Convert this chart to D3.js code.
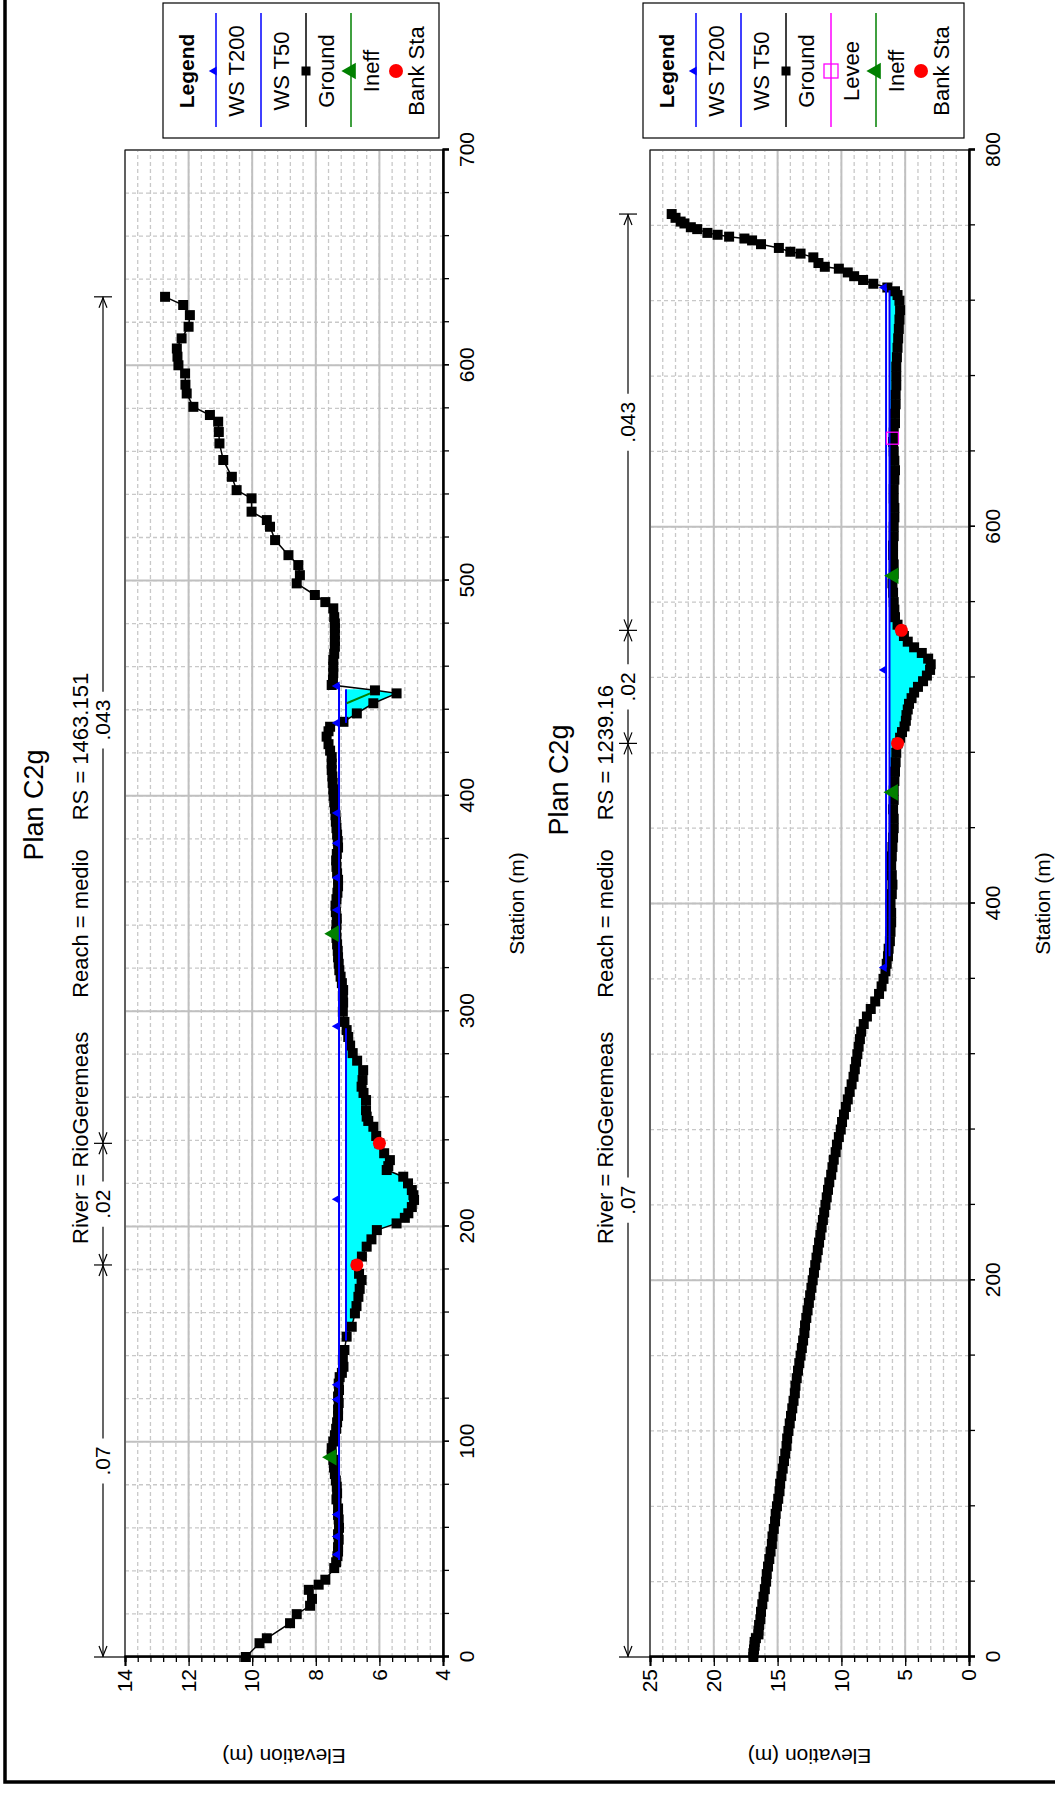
<!DOCTYPE html>
<html>
<head>
<meta charset="utf-8">
<script src="https://cdn.jsdelivr.net/npm/d3@7"></script>
<style>
  body { margin: 0; background: #fff; }
  svg { display: block; }
  text { font-family: "Liberation Sans", Arial, sans-serif; }
</style>
</head>
<body>
<div class="canvas"></div>
<script>
// ---- upper section, RS = 1463.151 ----
const upGroundSta = [0, 6.4, 8.7, 15.7, 19.9, 23.8, 27, 31.2, 33.6, 35.9, 41.3, 44, 46.8, 49, 51, 54.5, 57, 60, 63.9, 66, 69, 73.2, 76, 79.1, 82, 85, 88, 91.6, 94, 97, 100.1, 103, 106, 109, 112, 115, 118, 121, 124, 127, 130, 132, 134.8, 138, 142.6, 148.8, 153.4, 159.6, 163, 167.3, 171, 175.1, 178, 182.1, 186, 190.6, 194, 198.3, 201.4, 204, 206.1, 209, 212.3, 214.5, 216.9, 220, 223.1, 226.2, 228, 230.8, 234, 238.6, 242, 246.3, 249, 251, 254, 258.7, 262, 264.9, 268, 272.6, 277, 280.5, 284, 288, 291.2, 295, 299.7, 304, 307, 309.8, 313, 316, 319, 322, 325, 328, 331, 334, 337, 340, 343, 346, 349, 352, 355, 358, 361, 364, 367, 370, 373, 376, 379, 382, 385, 388, 391, 394, 397, 400, 403, 406, 409, 412, 415, 418, 421, 424, 427.5, 430, 432.1, 434.4, 438.3, 443, 447.6, 449, 451.5, 454, 457, 460, 463.1, 466, 469.3, 472, 475, 478, 480.1, 483, 487.1, 490, 493.3, 498.7, 502.5, 507.2, 511.8, 518.8, 525, 528.1, 532, 538.2, 542, 548.2, 556, 563.7, 569, 573.8, 576.9, 580.7, 586.9, 591, 596.2, 600, 604, 607.8, 612.5, 617.9, 623.3, 628, 631.8];
const upGroundElev = [10.2, 9.77, 9.54, 8.81, 8.6, 8.18, 8.12, 8.22, 7.91, 7.7, 7.42, 7.36, 7.32, 7.3, 7.3, 7.28, 7.3, 7.27, 7.28, 7.3, 7.3, 7.35, 7.33, 7.34, 7.37, 7.4, 7.43, 7.45, 7.5, 7.5, 7.45, 7.4, 7.36, 7.33, 7.3, 7.3, 7.28, 7.3, 7.27, 7.28, 7.25, 7.18, 7.13, 7.15, 7.1, 7.03, 6.87, 6.77, 6.72, 6.66, 6.62, 6.56, 6.64, 6.71, 6.55, 6.4, 6.25, 6.08, 5.46, 5.2, 5.09, 4.98, 4.91, 4.93, 4.98, 5.1, 5.25, 5.77, 5.72, 5.67, 5.85, 6.0, 6.1, 6.19, 6.35, 6.4, 6.42, 6.42, 6.5, 6.56, 6.53, 6.51, 6.7, 6.84, 6.92, 6.98, 7.03, 7.1, 7.15, 7.14, 7.15, 7.14, 7.18, 7.22, 7.26, 7.28, 7.3, 7.31, 7.33, 7.35, 7.36, 7.35, 7.34, 7.37, 7.38, 7.35, 7.32, 7.3, 7.3, 7.33, 7.35, 7.36, 7.34, 7.3, 7.31, 7.33, 7.35, 7.37, 7.38, 7.4, 7.42, 7.44, 7.45, 7.47, 7.48, 7.5, 7.5, 7.5, 7.55, 7.6, 7.66, 7.6, 7.55, 7.13, 6.71, 6.19, 5.46, 6.14, 7.5, 7.46, 7.45, 7.45, 7.45, 7.42, 7.4, 7.4, 7.4, 7.4, 7.4, 7.42, 7.45, 7.7, 8.03, 8.6, 8.5, 8.55, 8.86, 9.28, 9.44, 9.54, 10.02, 10.02, 10.49, 10.64, 10.91, 11.03, 11.05, 11.07, 11.33, 11.85, 12.06, 12.1, 12.11, 12.32, 12.35, 12.37, 12.22, 12.0, 11.96, 12.17, 12.74];
const upWsT200 = 7.27, upWsT200From = [45], upWsT200To = [452];
const upWsT50 = 7.05, upWsT50From = [147, 433.9], upWsT50To = [292, 449.5];
const upWsMarkSta = [47.6, 56, 66.2, 119.6, 126.5, 212.6, 293, 347, 362, 378, 392, 433.9, 451];
const upIneffSta = [92.8, 336], upIneffElev = [7.5, 7.43];
const upIneffLineSta = [443, 447.6], upIneffLineElev = [7.03, 6.29];
const upBankSta = [182.1, 238.6], upBankElev = [6.71, 6.0];
const upNBounds = [0, 182.1, 238.6, 631.8], upNValues = ['.07', '.02', '.043'];
const upStaTicks = [0, 100, 200, 300, 400, 500, 600, 700];
const upElevTicks = [4, 6, 8, 10, 12, 14];
const upLegend = ['WS T200', 'WS T50', 'Ground', 'Ineff', 'Bank Sta'];

// ---- lower section, RS = 1239.16 ----
const lowGroundSta = [0, 2, 4, 6, 8, 10, 12, 14, 17, 20, 24, 28, 32, 36, 40, 44, 48, 52, 56, 60, 64, 68, 72, 76, 80, 84, 88, 92, 96, 100, 104, 108, 112, 116, 120, 124, 128, 132, 136, 140, 144, 148, 152, 156, 160, 164, 168, 172, 176, 180, 184, 188, 192, 196, 200, 204, 208, 212, 216, 220, 224, 228, 232, 236, 240, 244, 248, 252, 256, 260, 264, 268, 272, 276, 280, 284, 288, 292, 296, 300, 304, 308, 312, 316, 320, 324, 328, 332, 336, 340, 344, 348, 352, 356, 360, 364, 368, 372, 376, 380, 385, 390, 395, 400, 405, 410, 415, 420, 425, 430, 435, 440, 445, 450, 455, 460, 465, 470, 475, 480, 485, 488, 491, 494, 497, 500, 503, 506, 509, 512, 515, 518, 521, 524, 527, 530, 533, 536, 539, 542, 545, 548, 552, 556, 560, 565, 570, 575, 580, 585, 590, 595, 600, 605, 610, 615, 620, 625, 630, 635, 640, 645, 650, 655, 660, 665, 670, 675, 680, 685, 690, 695, 700, 705, 710, 715, 720, 723, 725, 727, 729, 731, 733, 735, 737, 738, 740, 743, 745, 746, 748, 750, 752, 753, 754, 755, 756, 758, 759, 761, 762, 764, 766];
const lowGroundElev = [16.9, 16.9, 16.85, 16.8, 16.8, 16.7, 16.5, 16.5, 16.45, 16.35, 16.3, 16.2, 16.1, 16.0, 15.9, 15.85, 15.75, 15.65, 15.55, 15.45, 15.4, 15.3, 15.2, 15.15, 15.05, 14.95, 14.85, 14.8, 14.7, 14.6, 14.5, 14.4, 14.3, 14.25, 14.15, 14.05, 13.95, 13.85, 13.75, 13.65, 13.6, 13.5, 13.4, 13.3, 13.2, 13.1, 13.0, 12.9, 12.85, 12.75, 12.65, 12.55, 12.45, 12.35, 12.25, 12.15, 12.05, 11.95, 11.85, 11.75, 11.65, 11.55, 11.45, 11.35, 11.25, 11.15, 11.05, 10.95, 10.8, 10.7, 10.6, 10.45, 10.35, 10.2, 10.05, 9.95, 9.8, 9.65, 9.5, 9.35, 9.2, 9.05, 8.95, 8.85, 8.75, 8.65, 8.55, 8.45, 8.25, 8.0, 7.7, 7.35, 7.05, 6.85, 6.7, 6.55, 6.45, 6.35, 6.3, 6.2, 6.15, 6.1, 6.1, 6.15, 6.05, 6.0, 6.05, 6.1, 6.05, 6.0, 5.95, 5.9, 5.9, 5.95, 5.9, 5.9, 5.85, 5.8, 5.75, 5.7, 5.6, 5.4, 5.25, 5.05, 4.95, 4.9, 4.8, 4.7, 4.5, 4.3, 4.0, 3.6, 3.3, 3.05, 3.0, 3.2, 3.7, 4.3, 4.8, 5.1, 5.3, 5.6, 5.8, 5.85, 5.9, 5.95, 6.0, 5.9, 5.9, 5.95, 5.95, 5.9, 5.9, 5.85, 5.85, 5.9, 5.9, 5.85, 5.8, 5.85, 5.9, 5.95, 5.9, 5.8, 5.8, 5.75, 5.75, 5.7, 5.7, 5.7, 5.65, 5.6, 5.55, 5.5, 5.45, 5.4, 5.45, 5.6, 5.8, 6.4, 7.5, 8.3, 9.0, 9.5, 10.2, 11.3, 11.8, 12.2, 13.2, 14.0, 14.9, 16.3, 17.0, 17.6, 18.8, 19.7, 20.5, 21.3, 21.8, 22.3, 22.6, 23.0, 23.3];
const lowWsT200 = 6.5, lowWsT200From = [366], lowWsT200To = [727];
const lowWsT50 = 6.23, lowWsT50From = [372], lowWsT50To = [725.5];
const lowWsMarkSta = [366, 524, 727];
const lowIneffSta = [459, 574], lowIneffElev = [5.95, 5.9];
const lowLeveeSta = [647], lowLeveeElev = [6.0];
const lowBankSta = [485, 545], lowBankElev = [5.6, 5.3];
const lowNBounds = [0, 485, 545, 766], lowNValues = ['.07', '.02', '.043'];
const lowStaTicks = [0, 200, 400, 600, 800];
const lowElevTicks = [0, 5, 10, 15, 20, 25];
const lowLegend = ['WS T200', 'WS T50', 'Ground', 'Levee', 'Ineff', 'Bank Sta'];

const title = 'Plan C2g';

// page is portrait, the sheet is drawn landscape and turned a quarter turn
const pageW = 1055, pageH = 1793;
const plotX0 = 136, plotX1 = 1643;

const svg = d3.select('.canvas')
    .append('svg')
    .attr('width', pageW)
    .attr('height', pageH);

const sheet = svg.append('g')
    .attr('transform', `translate(0, ${pageH}) rotate(-90)`);
const defs = svg.append('defs');

// page border (right and bottom run off the picture)
sheet.append('rect')
    .attr('x', 11).attr('y', 5)
    .attr('width', 1900).attr('height', 1200)
    .attr('fill', 'none')
    .attr('stroke', '#000')
    .attr('stroke-width', 3.5);

const pts = (s, e) => s.map((d, i) => ({ s: d, e: e[i] }));

function drawSection(sec) {
    const g = sheet.append('g');
    const bottom = sec.top + sec.h;
    const x = d3.scaleLinear().domain([0, sec.stMax]).range([plotX0, plotX1]);
    const y = d3.scaleLinear().domain([sec.eMin, sec.eMax]).range([bottom, sec.top]);

    const stMinor = d3.range(0, Math.round(sec.stMax / sec.stStep) + 1).map(i => i * sec.stStep);
    const eMinor = d3.range(0, Math.round((sec.eMax - sec.eMin) / sec.eStep) + 1).map(i => sec.eMin + i * sec.eStep);

    // minor grid (dashed)
    const grid = g.append('g');
    grid.selectAll('.gx').data(stMinor).join('line')
        .attr('x1', d => x(d)).attr('x2', d => x(d))
        .attr('y1', sec.top).attr('y2', bottom)
        .attr('stroke', '#c8c8c8').attr('stroke-width', 1.3).attr('stroke-dasharray', '4,3');
    grid.selectAll('.gy').data(eMinor).join('line')
        .attr('x1', plotX0).attr('x2', plotX1)
        .attr('y1', d => y(d)).attr('y2', d => y(d))
        .attr('stroke', '#c8c8c8').attr('stroke-width', 1.3).attr('stroke-dasharray', '4,3');
    // major grid (solid)
    grid.selectAll('.mx').data(sec.staTicks).join('line')
        .attr('x1', d => x(d)).attr('x2', d => x(d))
        .attr('y1', sec.top).attr('y2', bottom)
        .attr('stroke', '#c0c0c0').attr('stroke-width', 2);
    grid.selectAll('.my').data(sec.elevTicks).join('line')
        .attr('x1', plotX0).attr('x2', plotX1)
        .attr('y1', d => y(d)).attr('y2', d => y(d))
        .attr('stroke', '#c0c0c0').attr('stroke-width', 2);

    const ground = pts(sec.groundSta, sec.groundElev);

    // water: rect under each WS T50 reach, clipped to the space above the ground
    const clipId = 'above-' + sec.key;
    defs.append('clipPath').attr('id', clipId)
        .append('path')
        .datum(ground)
        .attr('d', d3.area().x(d => x(d.s)).y0(sec.top - 50).y1(d => y(d.e)));
    g.append('g').attr('clip-path', `url(#${clipId})`)
        .selectAll('rect').data(sec.ws50From).join('rect')
        .attr('x', d => x(d))
        .attr('width', (d, i) => x(sec.ws50To[i]) - x(d))
        .attr('y', y(sec.ws50))
        .attr('height', bottom - y(sec.ws50))
        .attr('fill', '#00ffff');

    // ground
    g.append('path').datum(ground)
        .attr('d', d3.line().x(d => x(d.s)).y(d => y(d.e)))
        .attr('fill', 'none').attr('stroke', '#000').attr('stroke-width', 1.5);
    g.selectAll('.gp').data(ground).join('rect')
        .attr('x', d => x(d.s) - 5).attr('y', d => y(d.e) - 5)
        .attr('width', 10).attr('height', 10).attr('fill', '#000');

    // water surfaces
    const wsLines = [];
    sec.ws200From.forEach((d, i) => wsLines.push({ a: d, b: sec.ws200To[i], e: sec.ws200 }));
    sec.ws50From.forEach((d, i) => wsLines.push({ a: d, b: sec.ws50To[i], e: sec.ws50 }));
    g.selectAll('.ws').data(wsLines).join('line')
        .attr('x1', d => x(d.a)).attr('x2', d => x(d.b))
        .attr('y1', d => y(d.e)).attr('y2', d => y(d.e))
        .attr('stroke', '#0000ff').attr('stroke-width', 2);
    g.selectAll('.wm').data(sec.wsMarks).join('path')
        .attr('d', d3.symbol(d3.symbolTriangle, 36))
        .attr('transform', d => `translate(${x(d)},${y(sec.ws200) - 2})`)
        .attr('fill', '#0000ff');

    // ineffective flow
    if (sec.ineffLineSta) {
        g.append('path').datum(pts(sec.ineffLineSta, sec.ineffLineElev))
            .attr('d', d3.line().x(d => x(d.s)).y(d => y(d.e)))
            .attr('stroke', '#008000').attr('stroke-width', 2);
    }
    g.selectAll('.ie').data(pts(sec.ineffSta, sec.ineffElev)).join('path')
        .attr('d', d3.symbol(d3.symbolTriangle, 120))
        .attr('transform', d => `translate(${x(d.s)},${y(d.e)})`)
        .attr('fill', '#008000');
    if (sec.leveeSta) {
        g.selectAll('.lv').data(pts(sec.leveeSta, sec.leveeElev)).join('rect')
            .attr('x', d => x(d.s) - 6).attr('y', d => y(d.e) - 6)
            .attr('width', 12).attr('height', 12)
            .attr('fill', 'none').attr('stroke', '#ff00ff').attr('stroke-width', 1.3);
    }
    g.selectAll('.bk').data(pts(sec.bankSta, sec.bankElev)).join('circle')
        .attr('cx', d => x(d.s)).attr('cy', d => y(d.e)).attr('r', 6.5)
        .attr('fill', '#ff0000');

    // plot frame
    g.append('rect')
        .attr('x', plotX0).attr('y', sec.top)
        .attr('width', plotX1 - plotX0).attr('height', sec.h)
        .attr('fill', 'none').attr('stroke', '#000').attr('stroke-width', 1);

    // axes
    const xMinor = g.append('g').attr('transform', `translate(0,${bottom})`)
        .call(d3.axisBottom(x).tickValues(stMinor).tickSize(6).tickFormat(''));
    const xAxis = g.append('g').attr('transform', `translate(0,${bottom})`)
        .call(d3.axisBottom(x).tickValues(sec.staTicks).tickSize(6).tickPadding(10));
    const yMinor = g.append('g').attr('transform', `translate(${plotX0},0)`)
        .call(d3.axisLeft(y).tickValues(eMinor).tickSize(5).tickFormat(''));
    const yAxis = g.append('g').attr('transform', `translate(${plotX0},0)`)
        .call(d3.axisLeft(y).tickValues(sec.elevTicks).tickSize(9).tickPadding(3));
    [xMinor, xAxis, yMinor, yAxis].forEach(a => {
        a.select('.domain').attr('stroke-width', 2);
        a.selectAll('line').attr('stroke-width', 1.3);
        a.selectAll('text').attr('font-size', 21).attr('fill', '#000')
            .attr('font-family', '"Liberation Sans", Arial, sans-serif');
    });

    // axis titles
    g.append('text')
        .attr('x', (plotX0 + plotX1) / 2).attr('y', bottom + 81)
        .attr('text-anchor', 'middle').attr('font-size', 21)
        .text('Station (m)');
    g.append('text')
        .attr('transform', `translate(44,${sec.top + sec.h / 2}) rotate(-90)`)
        .attr('text-anchor', 'middle').attr('font-size', 21)
        .text('Elevation (m)');

    // titles
    g.append('text')
        .attr('x', sec.titleX).attr('y', sec.top - 82)
        .attr('text-anchor', 'middle').attr('font-size', 27)
        .text(title);
    const sub = g.append('text')
        .attr('x', sec.subX).attr('y', sec.top - 37)
        .attr('font-size', 22);
    sub.append('tspan').text('River = RioGeremeas');
    sub.append('tspan').attr('dx', 34).text('Reach = medio');
    sub.append('tspan').attr('dx', 29).text('RS = ' + sec.rs);

    // Manning's n marks above the plot
    const ny = sec.top - 22;
    const nb = g.append('g').attr('stroke', '#000').attr('stroke-width', 1.2).attr('fill', 'none');
    nb.selectAll('.nt').data(sec.nBounds).join('line')
        .attr('x1', d => x(d)).attr('x2', d => x(d))
        .attr('y1', ny - 9).attr('y2', (d, i) => i === 0 ? sec.top : ny + 9);
    sec.nValues.forEach((v, i) => {
        const a = x(sec.nBounds[i]), b = x(sec.nBounds[i + 1]), c = (a + b) / 2;
        const t = g.append('text').attr('x', c).attr('y', ny + 7)
            .attr('text-anchor', 'middle').attr('font-size', 21).text(v);
        const w = t.node().getComputedTextLength();
        nb.append('line').attr('x1', a).attr('x2', c - w / 2 - 8).attr('y1', ny).attr('y2', ny);
        nb.append('line').attr('x1', c + w / 2 + 8).attr('x2', b).attr('y1', ny).attr('y2', ny);
        nb.append('path').attr('d', `M${a + 11},${ny - 4}L${a + 1},${ny}L${a + 11},${ny + 4}`);
        nb.append('path').attr('d', `M${b - 11},${ny - 4}L${b - 1},${ny}L${b - 11},${ny + 4}`);
    });

    // legend
    const lx0 = 1655, lx1 = 1790, lcx = 1722;
    const lg = g.append('g');
    lg.append('rect')
        .attr('x', lx0).attr('y', sec.legendTop)
        .attr('width', lx1 - lx0).attr('height', sec.legendBottom - sec.legendTop)
        .attr('fill', '#fff').attr('stroke', '#000').attr('stroke-width', 1.2);
    lg.append('text')
        .attr('x', lcx).attr('y', sec.legendTop + 31)
        .attr('text-anchor', 'middle').attr('font-size', 21).attr('font-weight', 'bold')
        .text('Legend');
    const look = {
        'WS T200': { c: '#0000ff', m: 'ws' },
        'WS T50': { c: '#0000ff', m: 'none' },
        'Ground': { c: '#000', m: 'sq' },
        'Levee': { c: '#ff00ff', m: 'hollow' },
        'Ineff': { c: '#008000', m: 'tri' },
        'Bank Sta': { c: null, m: 'dot' }
    };
    sec.legend.forEach((name, i) => {
        const ly = sec.legendTop + 53 + i * 45;
        const st = look[name];
        if (st.c) {
            lg.append('line').attr('x1', 1666).attr('x2', 1780).attr('y1', ly).attr('y2', ly)
                .attr('stroke', st.c).attr('stroke-width', 1.5);
        }
        if (st.m === 'ws') {
            lg.append('path').attr('d', d3.symbol(d3.symbolTriangle, 36))
                .attr('transform', `translate(${lcx},${ly - 2})`).attr('fill', st.c);
        } else if (st.m === 'sq') {
            lg.append('rect').attr('x', lcx - 4.5).attr('y', ly - 4.5).attr('width', 9).attr('height', 9).attr('fill', '#000');
        } else if (st.m === 'hollow') {
            lg.append('rect').attr('x', lcx - 7).attr('y', ly - 7).attr('width', 14).attr('height', 14)
                .attr('fill', 'none').attr('stroke', st.c).attr('stroke-width', 1.3);
        } else if (st.m === 'tri') {
            lg.append('path').attr('d', d3.symbol(d3.symbolTriangle, 120))
                .attr('transform', `translate(${lcx},${ly})`).attr('fill', st.c);
        } else if (st.m === 'dot') {
            lg.append('circle').attr('cx', lcx).attr('cy', ly).attr('r', 7).attr('fill', '#ff0000');
        }
        lg.append('text').attr('x', lcx).attr('y', ly + 28)
            .attr('text-anchor', 'middle').attr('font-size', 22).text(name);
    });
}

drawSection({
    key: 'up', rs: '1463.151', top: 125, h: 318,
    stMax: 700, stStep: 20, eMin: 4, eMax: 14, eStep: 0.4,
    staTicks: upStaTicks, elevTicks: upElevTicks,
    groundSta: upGroundSta, groundElev: upGroundElev,
    ws200: upWsT200, ws200From: upWsT200From, ws200To: upWsT200To,
    ws50: upWsT50, ws50From: upWsT50From, ws50To: upWsT50To,
    wsMarks: upWsMarkSta,
    ineffSta: upIneffSta, ineffElev: upIneffElev,
    ineffLineSta: upIneffLineSta, ineffLineElev: upIneffLineElev,
    bankSta: upBankSta, bankElev: upBankElev,
    nBounds: upNBounds, nValues: upNValues,
    legend: upLegend, legendTop: 163, legendBottom: 439,
    titleX: 988, subX: 549
});

drawSection({
    key: 'low', rs: '1239.16', top: 650, h: 319,
    stMax: 800, stStep: 40, eMin: 0, eMax: 25, eStep: 1,
    staTicks: lowStaTicks, elevTicks: lowElevTicks,
    groundSta: lowGroundSta, groundElev: lowGroundElev,
    ws200: lowWsT200, ws200From: lowWsT200From, ws200To: lowWsT200To,
    ws50: lowWsT50, ws50From: lowWsT50From, ws50To: lowWsT50To,
    wsMarks: lowWsMarkSta,
    ineffSta: lowIneffSta, ineffElev: lowIneffElev,
    leveeSta: lowLeveeSta, leveeElev: lowLeveeElev,
    bankSta: lowBankSta, bankElev: lowBankElev,
    nBounds: lowNBounds, nValues: lowNValues,
    legend: lowLegend, legendTop: 643, legendBottom: 964,
    titleX: 1013, subX: 549
});
</script>
</body>
</html>
